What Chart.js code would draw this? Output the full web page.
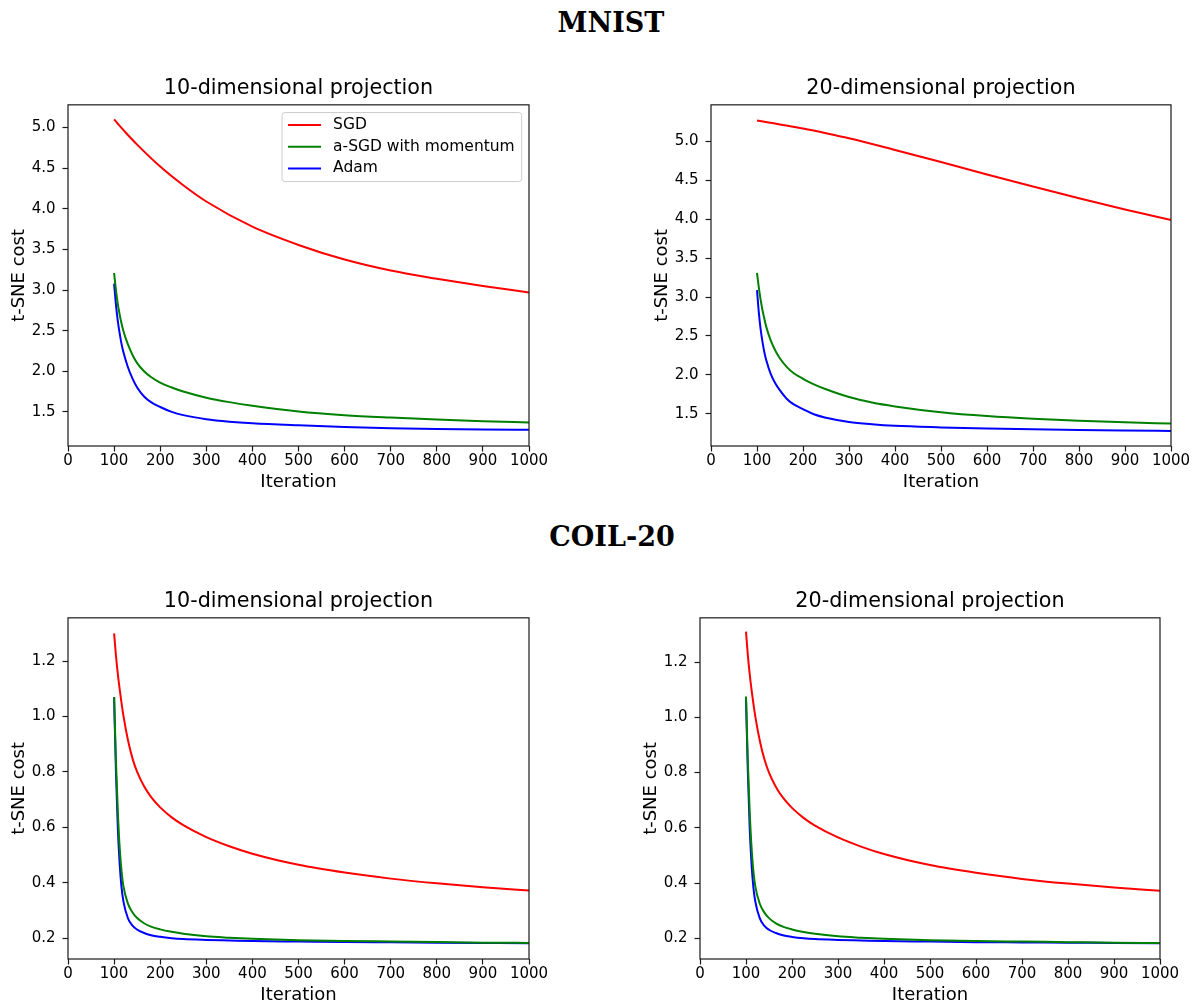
<!DOCTYPE html>
<html><head><meta charset="utf-8">
<script src="https://cdn.jsdelivr.net/npm/chart.js@4.4.0/dist/chart.umd.min.js"></script>
<style>
html,body{margin:0;padding:0;background:#fff;overflow:hidden;}
body{width:1195px;height:1006px;position:relative;}
canvas{position:absolute;}
.sup{position:absolute;font-family:'DejaVu Serif',serif;font-weight:bold;font-size:27px;color:#000;transform:translateX(-50%);white-space:nowrap;line-height:1;}
</style></head><body>
<div class="sup" style="left:611px;top:9px">MNIST</div>
<div class="sup" style="left:612px;top:523px">COIL-20</div>
<canvas id="c1" width="559" height="433" style="left:0px;top:60px"></canvas>
<canvas id="c2" width="558" height="433" style="left:643px;top:60px"></canvas>
<canvas id="c3" width="559" height="433" style="left:0px;top:573px"></canvas>
<canvas id="c4" width="558" height="433" style="left:632px;top:573px"></canvas>
<script>
// ---------- data ----------
const seriesLabels = ['SGD', 'a-SGD with momentum', 'Adam'];
const seriesColors = ['#ff0000', '#008000', '#0000ff'];

// slow curves (MNIST SGD) are read at coarse iterations, fast curves at fine ones
const coarseIterations = [100,125,150,200,250,300,400,500,600,700,800,900,1000];
const fineIterations   = [100,104,108,112,116,120,130,140,150,165,180,200,225,250,300,350,400,500,600,700,800,900,1000];

const mnist10Sgd  = [5.10,4.94,4.79,4.52,4.29,4.09,3.78,3.555,3.375,3.24,3.14,3.05,2.97];
const mnist10Asgd = [3.21,3.00,2.83,2.70,2.59,2.50,2.33,2.20,2.10,2.00,1.93,1.86,1.80,1.75,1.675,1.62,1.575,1.505,1.46,1.43,1.405,1.385,1.37];
const mnist10Adam = [3.08,2.82,2.62,2.47,2.34,2.24,2.05,1.91,1.80,1.69,1.62,1.56,1.50,1.46,1.41,1.38,1.36,1.335,1.315,1.30,1.29,1.284,1.28];

const mnist20Sgd  = [5.27,5.244,5.218,5.165,5.105,5.04,4.89,4.735,4.575,4.42,4.27,4.125,3.99];
const mnist20Asgd = [3.31,3.12,2.96,2.83,2.72,2.62,2.44,2.31,2.21,2.10,2.02,1.95,1.875,1.815,1.715,1.645,1.595,1.52,1.47,1.435,1.41,1.39,1.375];
const mnist20Adam = [3.09,2.80,2.58,2.42,2.29,2.19,2.01,1.89,1.80,1.69,1.62,1.56,1.49,1.45,1.395,1.365,1.345,1.325,1.31,1.30,1.29,1.284,1.28];

const coil10Sgd  = [1.30,1.22,1.155,1.10,1.05,1.005,0.915,0.848,0.80,0.748,0.71,0.672,0.636,0.608,0.565,0.532,0.505,0.465,0.437,0.415,0.398,0.384,0.372];
const coil10Asgd = [1.07,0.84,0.66,0.53,0.445,0.39,0.325,0.293,0.273,0.254,0.242,0.232,0.223,0.216,0.207,0.202,0.198,0.193,0.19,0.188,0.186,0.184,0.183];
const coil10Adam = [1.07,0.80,0.60,0.47,0.385,0.335,0.272,0.245,0.231,0.219,0.211,0.205,0.20,0.197,0.194,0.192,0.19,0.188,0.186,0.185,0.184,0.183,0.182];

const coil20Sgd  = [1.31,1.225,1.157,1.10,1.05,1.005,0.915,0.848,0.80,0.748,0.71,0.672,0.636,0.608,0.565,0.532,0.505,0.465,0.437,0.415,0.398,0.384,0.372];
const coil20Asgd = [1.075,0.84,0.66,0.53,0.445,0.39,0.325,0.293,0.273,0.254,0.242,0.232,0.223,0.216,0.207,0.202,0.198,0.193,0.19,0.188,0.186,0.184,0.183];
const coil20Adam = [1.07,0.80,0.60,0.47,0.385,0.335,0.272,0.245,0.231,0.219,0.211,0.205,0.20,0.197,0.194,0.192,0.19,0.188,0.186,0.185,0.184,0.183,0.182];

const xTicks = [0,100,200,300,400,500,600,700,800,900,1000];
const xTickLabels = ['0','100','200','300','400','500','600','700','800','900','1000'];
const mnistYTicks = [1.5,2.0,2.5,3.0,3.5,4.0,4.5,5.0];
const mnistYTickLabels = ['1.5','2.0','2.5','3.0','3.5','4.0','4.5','5.0'];
const coilYTicks = [0.2,0.4,0.6,0.8,1.0,1.2];
const coilYTickLabels = ['0.2','0.4','0.6','0.8','1.0','1.2'];

// ---------- plugins ----------
const framePlugin = {
  id: 'frame',
  afterDatasetsDraw(chart) {
    const {ctx, chartArea: a} = chart;
    ctx.save();
    ctx.strokeStyle = '#1a1a1a';
    ctx.lineWidth = 1.2;
    ctx.strokeRect(a.left, a.top, a.right - a.left, a.bottom - a.top);
    ctx.restore();
  }
};
const innerLegendPlugin = {
  id: 'innerLegend',
  afterDatasetsDraw(chart) {
    const {ctx, chartArea: a} = chart;
    const ds = chart.data.datasets;
    ctx.save();
    ctx.font = '15.5px "DejaVu Sans"';
    const tw = Math.max(...ds.map(d => ctx.measureText(d.label).width));
    const w = 51 + tw + 7, h = 69;
    const x = a.right - 7.3 - w, y = a.top + 7.7;
    const r = 3;
    ctx.beginPath();
    ctx.moveTo(x + r, y);
    ctx.arcTo(x + w, y, x + w, y + h, r);
    ctx.arcTo(x + w, y + h, x, y + h, r);
    ctx.arcTo(x, y + h, x, y, r);
    ctx.arcTo(x, y, x + w, y, r);
    ctx.closePath();
    ctx.fillStyle = 'rgba(255,255,255,0.8)';
    ctx.fill();
    ctx.strokeStyle = '#cccccc';
    ctx.lineWidth = 1;
    ctx.stroke();
    ds.forEach((d, i) => {
      const ry = y + 12.5 + i * 21.7;
      ctx.strokeStyle = d.borderColor;
      ctx.lineWidth = 2;
      ctx.beginPath();
      ctx.moveTo(x + 6, ry);
      ctx.lineTo(x + 39, ry);
      ctx.stroke();
      ctx.fillStyle = '#000';
      ctx.textBaseline = 'middle';
      ctx.textAlign = 'left';
      ctx.fillText(d.label, x + 51, ry);
    });
    ctx.restore();
  }
};

function makeChart(id, title, series, yMin, yMax, yTicks, yTickLabels, withLegend) {
  const tickFont = {family: 'DejaVu Sans', size: 15};
  const plugins = [framePlugin];
  if (withLegend) plugins.push(innerLegendPlugin);
  return new Chart(document.getElementById(id), {
    type: 'line',
    data: {
      datasets: series.map((s, k) => ({
        label: seriesLabels[k],
        data: s.iters.map((it, i) => ({x: it, y: s.values[i]})),
        borderColor: seriesColors[k],
        backgroundColor: seriesColors[k],
        borderWidth: 2,
        pointRadius: 0,
        cubicInterpolationMode: 'monotone',
        fill: false
      }))
    },
    options: {
      responsive: false,
      animation: false,
      devicePixelRatio: 1,
      layout: {padding: {left: 0, right: 30, top: 0, bottom: 0}},
      plugins: {
        legend: {display: false},
        tooltip: {enabled: false},
        title: {display: true, fullSize: false, text: title, color: '#000',
                font: {family: 'DejaVu Sans', size: 20.7, weight: 'normal'},
                padding: {top: 16, bottom: 4}}
      },
      scales: {
        x: {
          type: 'linear', min: 0, max: 1000,
          afterBuildTicks: s => { s.ticks = xTicks.map(v => ({value: v})); },
          afterFit: s => { s.height = 47; },
          ticks: {color: '#000', font: tickFont, padding: 1, maxRotation: 0, autoSkip: false,
                  callback: (v, i) => xTickLabels[i]},
          grid: {drawOnChartArea: false, drawTicks: true, tickLength: 5.5, tickWidth: 1.2, tickColor: '#1a1a1a'},
          border: {display: false},
          title: {display: true, text: 'Iteration', color: '#000',
                  font: {family: 'DejaVu Sans', size: 18}, padding: {top: 0, bottom: 0}}
        },
        y: {
          type: 'linear', min: yMin, max: yMax,
          afterBuildTicks: s => { s.ticks = yTicks.map(v => ({value: v})); },
          afterFit: s => { s.width = 68; },
          ticks: {color: '#000', font: tickFont, padding: 7, autoSkip: false,
                  callback: (v, i) => yTickLabels[i]},
          grid: {drawOnChartArea: false, drawTicks: true, tickLength: 5.5, tickWidth: 1.2, tickColor: '#1a1a1a'},
          border: {display: false},
          title: {display: true, text: 't-SNE cost', color: '#000',
                  font: {family: 'DejaVu Sans', size: 18}, padding: {top: 9, bottom: 0}}
        }
      }
    },
    plugins: plugins
  });
}

makeChart('c1', '10-dimensional projection',
  [{iters: coarseIterations, values: mnist10Sgd}, {iters: fineIterations, values: mnist10Asgd}, {iters: fineIterations, values: mnist10Adam}],
  1.08, 5.28, mnistYTicks, mnistYTickLabels, true);
makeChart('c2', '20-dimensional projection',
  [{iters: coarseIterations, values: mnist20Sgd}, {iters: fineIterations, values: mnist20Asgd}, {iters: fineIterations, values: mnist20Adam}],
  1.086, 5.47, mnistYTicks, mnistYTickLabels, false);
makeChart('c3', '10-dimensional projection',
  [{iters: fineIterations, values: coil10Sgd}, {iters: fineIterations, values: coil10Asgd}, {iters: fineIterations, values: coil10Adam}],
  0.125, 1.356, coilYTicks, coilYTickLabels, false);
makeChart('c4', '20-dimensional projection',
  [{iters: fineIterations, values: coil20Sgd}, {iters: fineIterations, values: coil20Asgd}, {iters: fineIterations, values: coil20Adam}],
  0.125, 1.36, coilYTicks, coilYTickLabels, false);
</script>
</body></html>
